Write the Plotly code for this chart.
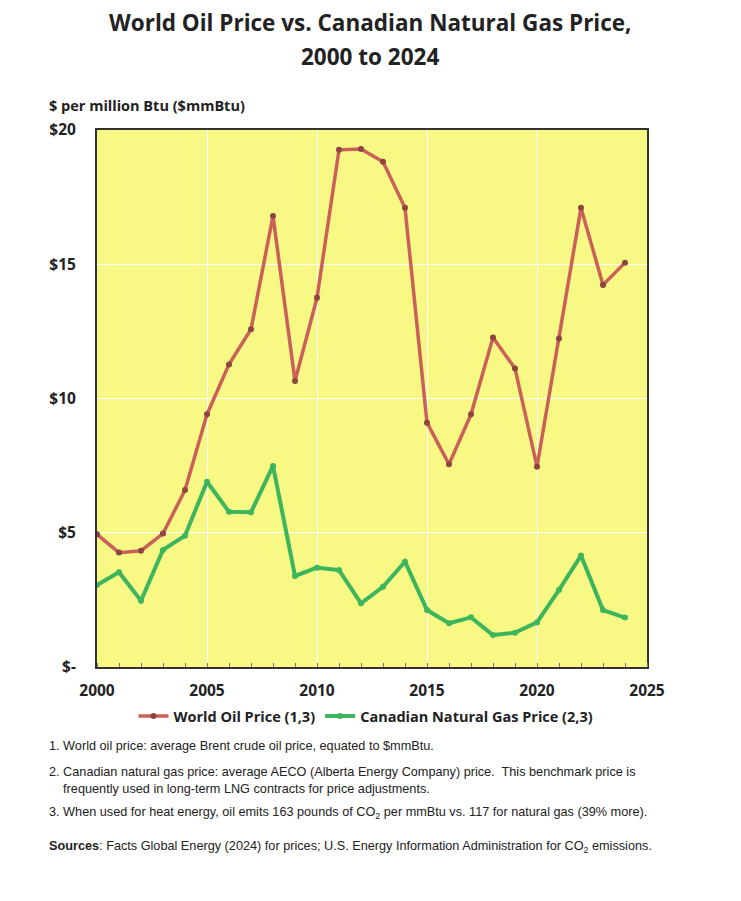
import plotly.graph_objects as go

# Data
years = list(range(2000, 2025))
oil_price = [4.94, 4.26, 4.33, 4.97, 6.59, 9.41, 11.27, 12.58, 16.8, 10.65,
             13.75, 19.26, 19.29, 18.82, 17.1, 9.1, 7.55, 9.41, 12.27, 11.12,
             7.46, 12.23, 17.1, 14.23, 15.06]
gas_price = [3.05, 3.53, 2.47, 4.36, 4.89, 6.9, 5.78, 5.76, 7.49, 3.39,
             3.7, 3.61, 2.37, 2.99, 3.92, 2.12, 1.63, 1.85, 1.19, 1.28,
             1.66, 2.87, 4.15, 2.12, 1.84]

y_tick_vals = [0, 5, 10, 15, 20]
y_tick_text = ['$-', '$5', '$10', '$15', '$20']
x_tick_vals = [2000, 2005, 2010, 2015, 2020, 2025]

title_lines = ['World Oil Price vs. Canadian Natural Gas Price,', '2000 to 2024']
footnotes = [
    '1. World oil price: average Brent crude oil price, equated to $mmBtu.',
    '2. Canadian natural gas price: average AECO (Alberta Energy Company) price.  This benchmark price is<br>'
    '    frequently used in long-term LNG contracts for price adjustments.',
    '3. When used for heat energy, oil emits 163 pounds of CO<sub>2</sub> per mmBtu vs. 117 for natural gas (39% more).',
    '<b>Sources</b>: Facts Global Energy (2024) for prices; U.S. Energy Information Administration for CO<sub>2</sub> emissions.',
]

head_font = 'Open Sans'
note_font = 'Liberation Sans Narrow, Liberation Sans, Arial'

# page body has an 8px margin, so the figure is drawn 8px in from the corner
OFF = 8
W, H = 741 - OFF, 901 - OFF
L, R, T, B = 89, 94, 122, 234


def px_x(x):
    return (x - OFF - L) / (W - L - R)


def px_y(y):
    return 1 - (y - OFF - T) / (H - T - B)


fig = go.Figure()
fig.add_trace(go.Scatter(
    x=years, y=oil_price, mode='lines+markers',
    name='World Oil Price (1,3)',
    line=dict(color='#C9605A', width=3.5),
    marker=dict(color='#8E4440', size=6),
))
fig.add_trace(go.Scatter(
    x=years, y=gas_price, mode='lines+markers',
    name='Canadian Natural Gas Price (2,3)',
    line=dict(color='#3DB55C', width=4),
    marker=dict(color='#3DB55C', size=6),
))

for text, yp in zip(title_lines, [23, 57]):
    fig.add_annotation(
        text='<b>' + text + '</b>', xref='paper', yref='paper',
        x=px_x(370), y=px_y(yp), xanchor='center', yanchor='middle', showarrow=False,
        font=dict(family=head_font, size=22.5, color='#222'),
    )

fig.add_annotation(
    text='<b>$ per million Btu ($mmBtu)</b>', xref='paper', yref='paper',
    x=px_x(47), y=px_y(105), xanchor='left', yanchor='middle', showarrow=False,
    font=dict(family=head_font, size=14.5, color='#222'),
)

for text, yp in zip(footnotes, [746, 780, 813, 847]):
    fig.add_annotation(
        text=text, xref='paper', yref='paper',
        x=px_x(47), y=px_y(yp), xanchor='left', yanchor='middle', align='left', showarrow=False,
        font=dict(family=note_font, size=12.7, color='#222'),
    )

fig.update_layout(
    width=W, height=H,
    margin=dict(l=L, r=R, t=T, b=B, autoexpand=False),
    paper_bgcolor='white',
    plot_bgcolor='#F8F985',
    showlegend=True,
    legend=dict(
        orientation='h', x=px_x(366), xanchor='center',
        y=px_y(716), yanchor='middle',
        font=dict(family=head_font, size=14.5, color='#222', weight='bold'),
        itemwidth=30, tracegroupgap=0,
    ),
    xaxis=dict(
        range=[2000, 2025], tickvals=x_tick_vals,
        showgrid=True, gridcolor='white', gridwidth=1,
        showline=True, linecolor='#333', linewidth=2, mirror=True,
        ticks='', ticklabelstandoff=8,
        tickfont=dict(family=head_font, size=15.5, color='#222', weight='bold'),
        minor=dict(dtick=1, tick0=2000, ticks='inside', ticklen=4, tickcolor='#777', showgrid=False),
        zeroline=False,
    ),
    yaxis=dict(
        range=[0, 20], tickvals=y_tick_vals, ticktext=y_tick_text,
        showgrid=True, gridcolor='white', gridwidth=1,
        showline=True, linecolor='#333', linewidth=2, mirror=True,
        ticks='', ticklabelstandoff=16,
        tickfont=dict(family=head_font, size=15.5, color='#222', weight='bold'),
        zeroline=False,
    ),
)

fig.write_html('out.html')
